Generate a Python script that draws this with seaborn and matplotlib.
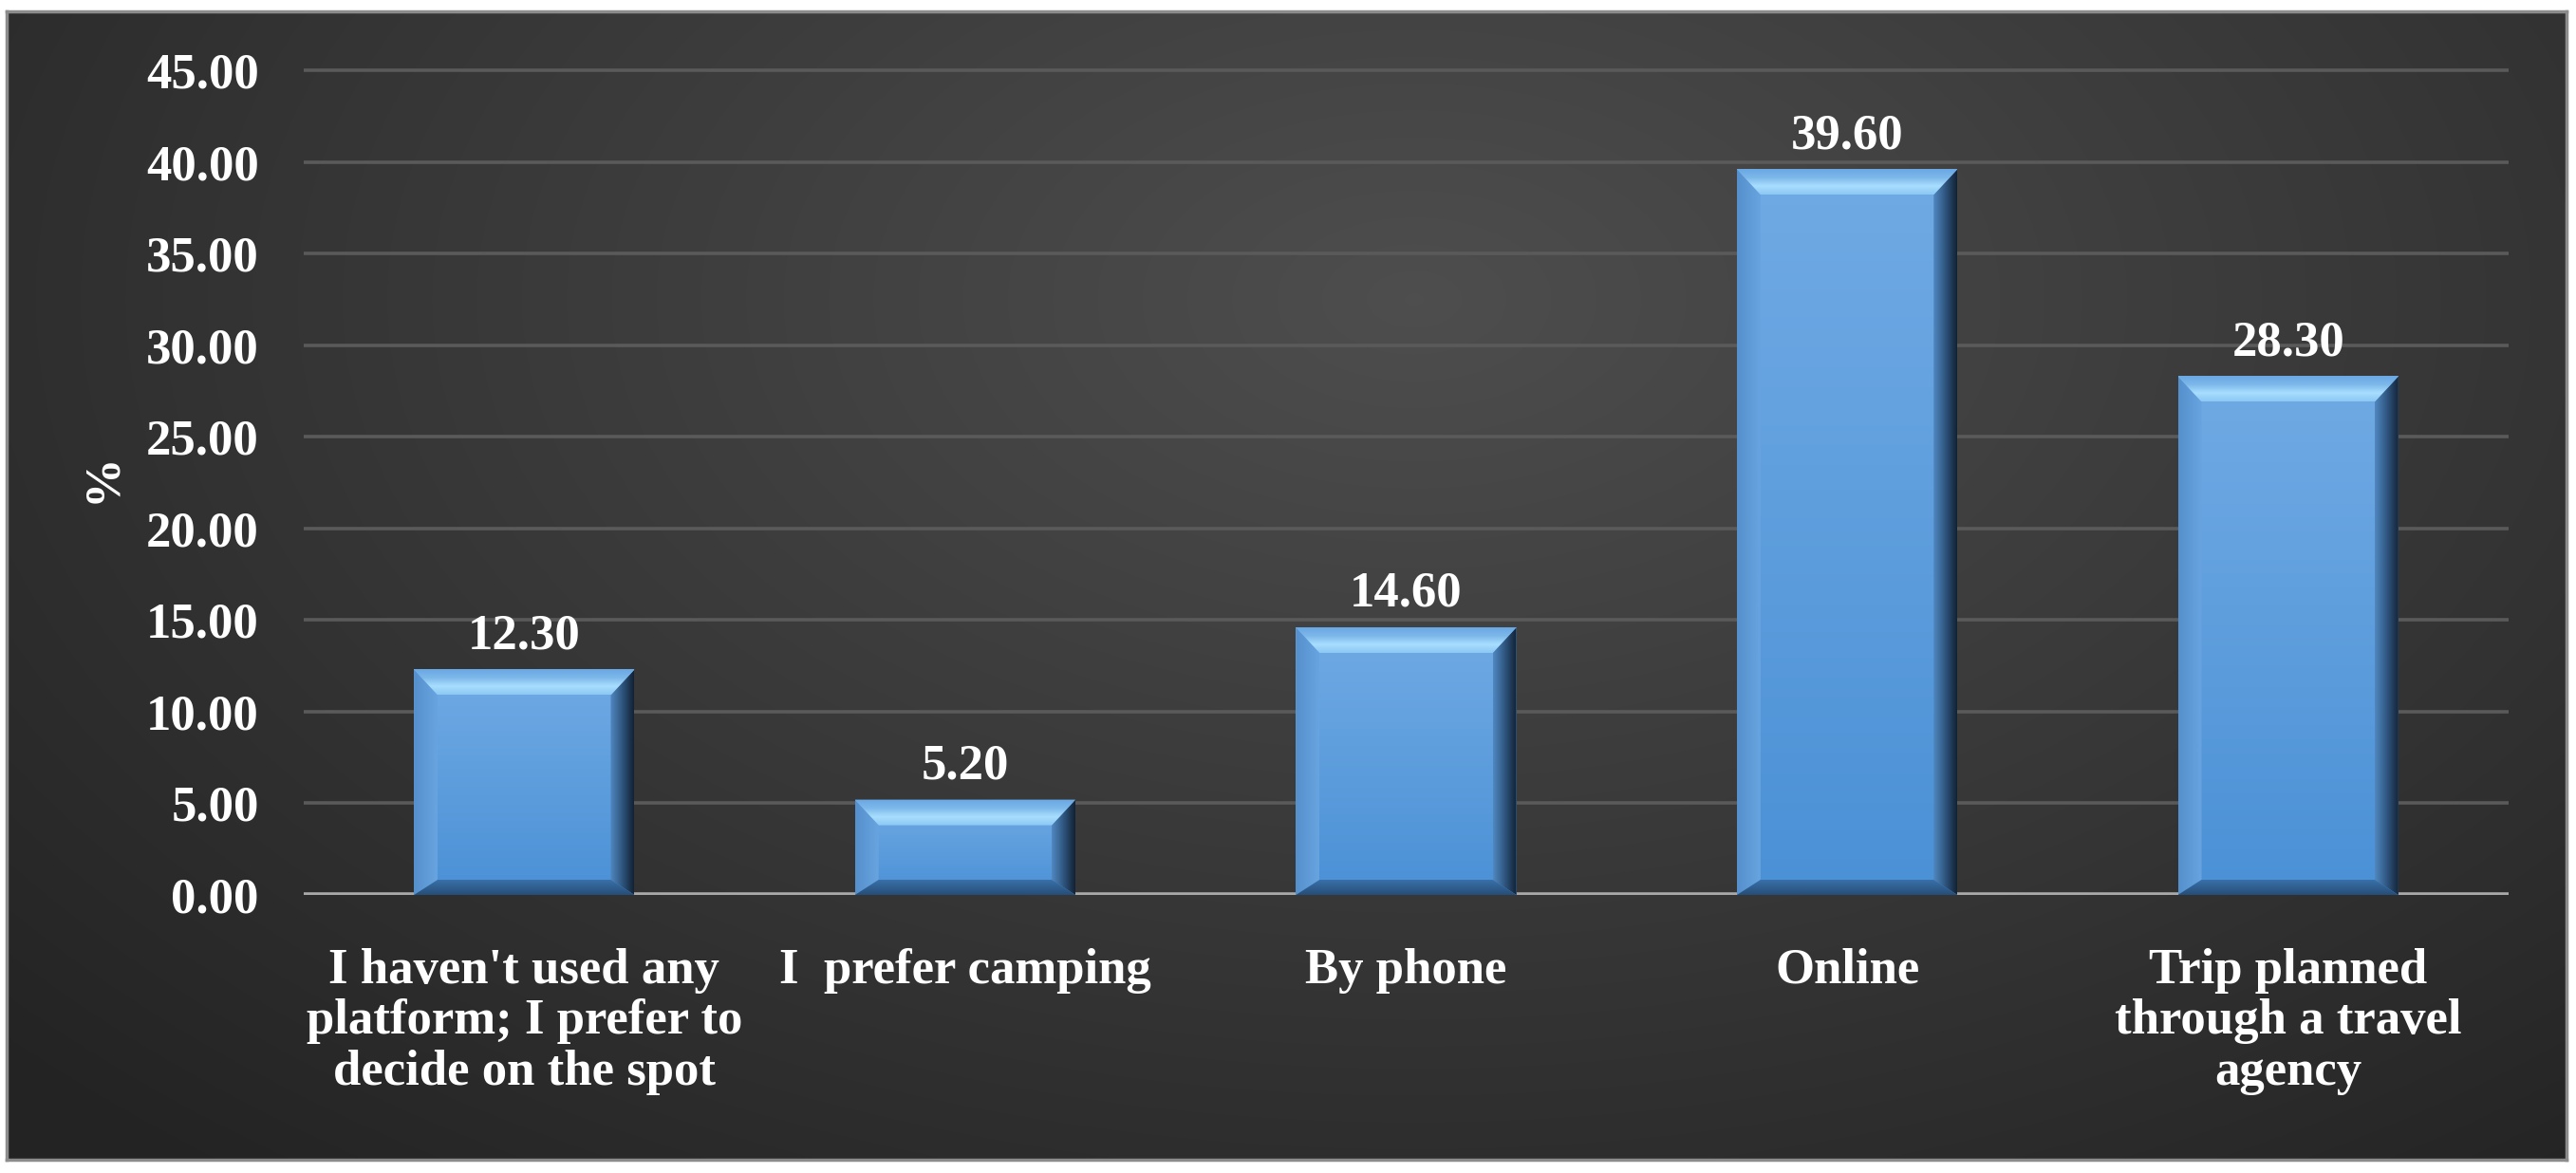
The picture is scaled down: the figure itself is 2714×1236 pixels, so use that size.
import numpy as np
import pandas as pd
import matplotlib
matplotlib.use("Agg")
import matplotlib.pyplot as plt
import seaborn as sns
from matplotlib.patches import Polygon, Rectangle
from matplotlib.colors import LinearSegmentedColormap

categories = [
    "I haven't used any\nplatform; I prefer to\ndecide on the spot",
    "I  prefer camping",
    "By phone",
    "Online",
    "Trip planned\nthrough a travel\nagency",
]
values = [12.30, 5.20, 14.60, 39.60, 28.30]
yticks = [0, 5, 10, 15, 20, 25, 30, 35, 40, 45]
ylabel = "%"

W, H = 2714, 1236
DPI = 100
sns.set_theme(style="white")
plt.rcParams["font.family"] = ["Liberation Serif", "DejaVu Serif"]
plt.rcParams["font.weight"] = "bold"

FS = 38

fig = plt.figure(figsize=(W / DPI, H / DPI), dpi=DPI, facecolor="white")

# dark panel with radial gradient
px0, px1, py0, py1 = 7, 2704, 12, 1222
bg = fig.add_axes([px0 / W, 1 - py1 / H, (px1 - px0) / W, (py1 - py0) / H], zorder=0)
gx = np.linspace(0, 1, 600)
gy = np.linspace(0, 1, 300)
GX, GY = np.meshgrid(gx, gy)
d = np.sqrt(((GX - 0.55) / 0.75) ** 2 + ((GY - 0.25) / 1.0) ** 2)
grad = np.clip(1 - d, 0, 1)
cm_bg = LinearSegmentedColormap.from_list("bg", ["#232323", "#4e4e4e"])
bg.imshow(grad, cmap=cm_bg, aspect="auto", extent=[0, 1, 1, 0], interpolation="bilinear")
bg.set_xlim(0, 1)
bg.set_ylim(1, 0)
bg.set_xticks([])
bg.set_yticks([])
for s in bg.spines.values():
    s.set_color("#8c8c8c")
    s.set_linewidth(2.5)

# main axes
left, right = 320 / W, 2643 / W
y_top_val = 45.5
pix0 = 943
pix45 = 74
pix_top = pix0 - (pix0 - pix45) * y_top_val / 45
ax = fig.add_axes([left, 1 - pix0 / H, right - left, (pix0 - pix_top) / H], zorder=1)
ax.patch.set_alpha(0)

df = pd.DataFrame({"cat": categories, "val": values})
sns.barplot(data=df, x="cat", y="val", color="#5c9ddc", width=0.5, ax=ax,
            saturation=1, zorder=3, edgecolor="none")
ax.set_xlim(-0.5, len(categories) - 0.5)
ax.set_ylim(0, y_top_val)
ax.set_yticks(yticks)
ax.set_yticklabels([f"{v:.2f}" for v in yticks])
ax.grid(axis="y", color="#5a5a5a", linewidth=2.6, zorder=1)
ax.grid(axis="x", visible=False)
for name, s in ax.spines.items():
    s.set_visible(False)
ax.axhline(0, color="#a9a9a9", linewidth=4.0, zorder=2)

ax.tick_params(axis="y", colors="white", labelsize=FS, length=0, pad=34)
ax.tick_params(axis="x", colors="white", labelsize=FS, length=0, pad=40)
for t in ax.get_xticklabels() + ax.get_yticklabels():
    t.set_fontweight("bold")
    t.set_color("white")
for t in ax.get_xticklabels():
    t.set_linespacing(1.15)
ax.set_xlabel("")
ax.set_ylabel(ylabel, color="white", fontsize=FS, fontweight="bold", labelpad=16)

# bevel overlays derived from the bar patches
ax_w_px = (right - left) * W
ax_h_px = (pix0 - pix_top)
dx = 25 * (len(categories)) / ax_w_px
dy_top = 27 * y_top_val / ax_h_px
dy_bot = 16 * y_top_val / ax_h_px

def grad_fill(poly, colors, extent, vertical=True, z=4):
    cmap = LinearSegmentedColormap.from_list("g", colors)
    if vertical:
        arr = np.linspace(0, 1, 64).reshape(-1, 1)
    else:
        arr = np.linspace(0, 1, 64).reshape(1, -1)
    im = ax.imshow(arr, cmap=cmap, extent=extent, origin="lower", aspect="auto",
                   zorder=z, interpolation="bilinear")
    patch = Polygon(poly, closed=True, facecolor="none", edgecolor="none", transform=ax.transData)
    ax.add_patch(patch)
    im.set_clip_path(patch)

for p in list(ax.patches):
    if not isinstance(p, Rectangle):
        continue
    x0 = p.get_x(); w = p.get_width(); h = p.get_height()
    if w <= 0 or h <= 0:
        continue
    x1 = x0 + w
    # face gradient (bottom -> top)
    grad_fill([(x0, 0), (x1, 0), (x1, h), (x0, h)], ["#4b91d6", "#70aae4"],
              [x0, x1, 0, h], vertical=True, z=4)
    # left bevel
    grad_fill([(x0, 0), (x0 + dx, dy_bot), (x0 + dx, h - dy_top), (x0, h)],
              ["#5590cc", "#68a4df"], [x0, x0 + dx, 0, h], vertical=False, z=5)
    # right bevel
    grad_fill([(x1, 0), (x1, h), (x1 - dx, h - dy_top), (x1 - dx, dy_bot)],
              ["#5088c0", "#2f5680", "#122234"], [x1 - dx, x1, 0, h], vertical=False, z=5)
    # top bevel (inner highlight -> outer face colour)
    grad_fill([(x0, h), (x1, h), (x1 - dx, h - dy_top), (x0 + dx, h - dy_top)],
              ["#8cc8f4", "#a8defe", "#7db8ea", "#6aa8e4"], [x0, x1, h - dy_top, h],
              vertical=True, z=6)
    # bottom bevel
    grad_fill([(x0, 0), (x1, 0), (x1 - dx, dy_bot), (x0 + dx, dy_bot)],
              ["#264e78", "#3a70a8"], [x0, x1, 0, dy_bot], vertical=True, z=6)

ax.bar_label(ax.containers[0], labels=[f"{v:.2f}" for v in values], padding=8,
             color="white", fontsize=FS, fontweight="bold", zorder=8)

ax.set_xlim(-0.5, len(categories) - 0.5)
ax.set_ylim(0, y_top_val)

fig.savefig("out.png", dpi=DPI, facecolor="white")
